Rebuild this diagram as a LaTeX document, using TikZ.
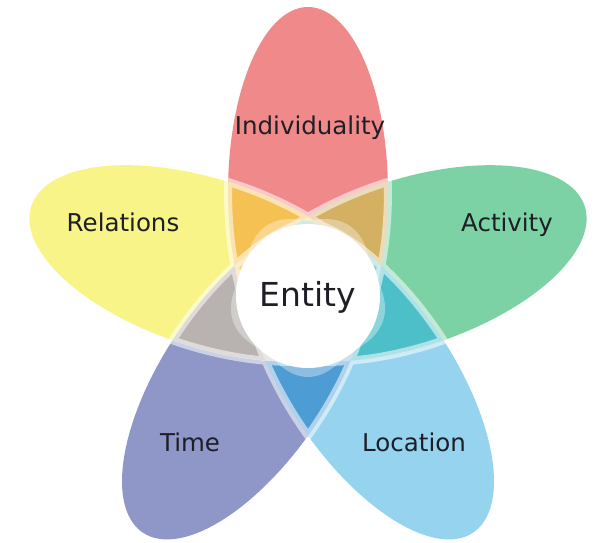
\documentclass[tikz,border=0pt]{standalone}
\usepackage{fontspec}
\setmainfont{DejaVu Sans}
\definecolor{cR}{HTML}{F08A8A}
\definecolor{cG}{HTML}{7DD2A5}
\definecolor{cL}{HTML}{96D3EE}
\definecolor{cT}{HTML}{8E97C8}
\definecolor{cY}{HTML}{F8F488}
\definecolor{cRG}{HTML}{D3B062}
\definecolor{cGL}{HTML}{4DBFC8}
\definecolor{cLT}{HTML}{4D9CD3}
\definecolor{cTY}{HTML}{B8B3B0}
\definecolor{cYR}{HTML}{F6C153}
\definecolor{txt}{HTML}{1E1E26}
% petal parameters: axis angle, centre distance, half width, lateral offset
\def\angR{90}  \def\dR{101} \def\bR{80} \def\eR{0}
\def\angG{18}  \def\dG{105} \def\bG{84} \def\eG{-3}
\def\angY{162} \def\dY{105} \def\bY{84} \def\eY{3}
\def\angL{-56} \def\dL{106} \def\bL{83} \def\eL{3}
\def\angT{236} \def\dT{106} \def\bT{83} \def\eT{-3}
\newcommand\eggplot[1]{plot[variable=\t,domain=0:357,samples=120]
  ({\csname d#1\endcsname+185*cos(\t)},
   {\csname e#1\endcsname+\csname b#1\endcsname*sin(\t)}) -- cycle}
\newcommand\petal[1]{[shift={(308,249)},rotate=\csname ang#1\endcsname] \eggplot{#1}}
\newcommand\invpetal[1]{[shift={(308,249)},rotate=\csname ang#1\endcsname]
  (-900,-900) rectangle (900,900) \eggplot{#1}}
\tikzset{
  band/.style={draw=white, line width=8pt},
  lbl/.style={anchor=base, text=txt, font=\fontsize{24.5}{29}\selectfont},
}
\begin{document}
\begin{tikzpicture}[x=1pt,y=1pt]
\fill[white] (0,0) rectangle (598,542);
\useasboundingbox (0,0) rectangle (598,542);
% base petals
\foreach \p in {R,G,L,T,Y}{ \fill[c\p] \petal{\p}; }
% overlaps of neighbouring petals
\foreach \a/\b in {R/G, G/L, L/T, T/Y, Y/R}{
  \begin{scope}
    \clip \petal{\a};
    \fill[c\a\b] \petal{\b};
  \end{scope}
}
% inner tips keep the colour of the overlap they lie in
\foreach \e/\p/\q in {R/L/T, G/T/Y, L/Y/R, T/R/G, Y/G/L}{
  \begin{scope}
    \clip \petal{\p};
    \clip \petal{\q};
    \fill[c\p\q] \petal{\e};
  \end{scope}
}
% lighter where three petals meet
\begin{scope}[transparency group, opacity=0.35]
\foreach \a/\b/\c in {Y/R/G, R/G/L, G/L/T, L/T/Y, T/Y/R, R/L/T, G/T/Y, L/Y/R, T/R/G, Y/G/L}{
  \begin{scope}
    \clip \petal{\a};
    \clip \petal{\b};
    \fill[white] \petal{\c};
  \end{scope}
}
\end{scope}
% translucent white outlines, visible only inside other petals
\begin{scope}[transparency group, opacity=0.55]
\foreach \e/\a/\b/\p/\q in {R/G/Y/L/T, G/L/R/T/Y, L/T/G/Y/R, T/Y/L/R/G, Y/R/T/G/L}{
  \begin{scope}
    \clip \petal{\a};
    \path[band] \petal{\e};
  \end{scope}
  \begin{scope}
    \clip \petal{\b};
    \path[band] \petal{\e};
  \end{scope}
  \begin{scope}[even odd rule]
    \clip \petal{\p};
    \clip \invpetal{\q};
    \path[band] \petal{\e};
  \end{scope}
  \begin{scope}[even odd rule]
    \clip \petal{\q};
    \clip \invpetal{\p};
    \path[band] \petal{\e};
  \end{scope}
}
\end{scope}
% centre
\node[circle, fill=white, minimum size=144pt, inner sep=0pt] (entity) at (308,246) {};
\node[lbl, font=\fontsize{33}{40}\selectfont] (entitytext) at (308,235.3) {Entity};
\node[lbl] (indiv) at (310,407) {Individuality};
\node[lbl] (rel) at (123,310) {Relations};
\node[lbl] (act) at (507,310) {Activity};
\node[lbl] (time) at (190,91) {Time};
\node[lbl] (loc) at (414,91) {Location};
\end{tikzpicture}
\end{document}
